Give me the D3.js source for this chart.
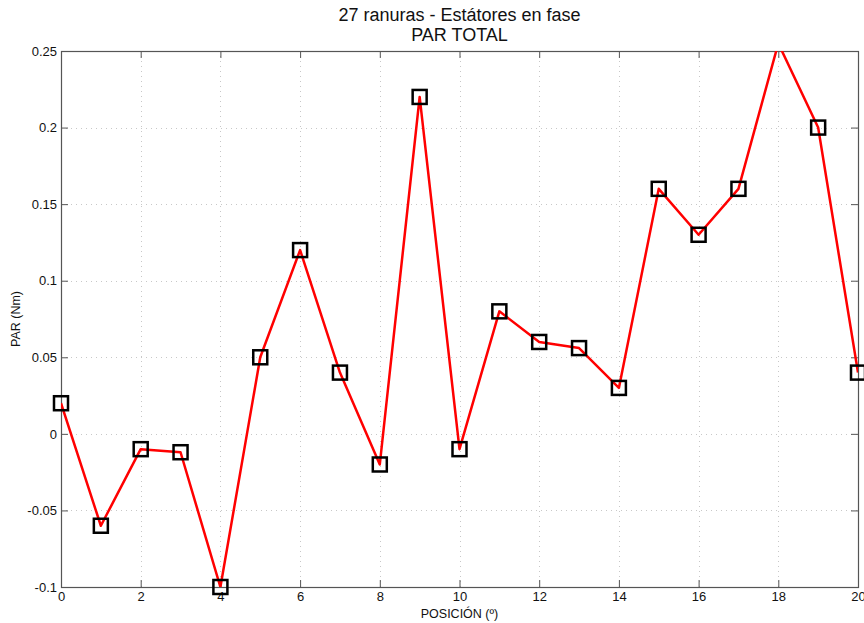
<!DOCTYPE html>
<html>
<head>
<meta charset="utf-8">
<script src="https://cdn.jsdelivr.net/npm/d3@7"></script>
<style>
  html, body { margin: 0; padding: 0; background: #fff; }
  svg { display: block; font-family: "Liberation Sans", Arial, sans-serif; }
</style>
</head>
<body>
<svg id="chart" width="864" height="623"></svg>
<script>
// Torque per rotor position
const positions = [0, 1, 2, 3, 4, 5, 6, 7, 8, 9, 10, 11, 12, 13, 14, 15, 16, 17, 18, 19, 20];
const torque = [0.02, -0.06, -0.01, -0.012, -0.1, 0.05, 0.12, 0.04, -0.02, 0.22, -0.01,
                0.08, 0.06, 0.056, 0.03, 0.16, 0.13, 0.16, 0.255, 0.2, 0.04];
const xTicks = [0, 2, 4, 6, 8, 10, 12, 14, 16, 18, 20];
const yTicks = [-0.1, -0.05, 0, 0.05, 0.1, 0.15, 0.2, 0.25];
const titleLines = ["27 ranuras - Estátores en fase", "PAR TOTAL"];
const xLabel = "POSICIÓN (º)";
const yLabel = "PAR (Nm)";

const svg = d3.select("#chart");
const m = { left: 61, top: 51, right: 858, bottom: 587 };

const x = d3.scaleLinear().domain([0, 20]).range([m.left, m.right]);
const y = d3.scaleLinear().domain([-0.1, 0.25]).range([m.bottom, m.top]);

svg.append("defs").append("clipPath").attr("id", "plotClip")
  .append("rect").attr("x", m.left).attr("y", m.top)
  .attr("width", m.right - m.left).attr("height", m.bottom - m.top);

// dotted grid
const grid = svg.append("g").attr("stroke", "#c8c8c8").attr("stroke-width", 1)
  .attr("stroke-dasharray", "1,4");
grid.selectAll(".gx").data(xTicks.filter(t => t > 0 && t < 20)).join("line")
  .attr("x1", d => Math.round(x(d)) + 0.5).attr("x2", d => Math.round(x(d)) + 0.5)
  .attr("y1", m.top).attr("y2", m.bottom);
grid.selectAll(".gy").data(yTicks.filter(t => t > -0.1 && t < 0.25)).join("line")
  .attr("y1", d => Math.round(y(d)) + 0.5).attr("y2", d => Math.round(y(d)) + 0.5)
  .attr("x1", m.left).attr("x2", m.right);

// axes (inward ticks, mirrored on all sides)
const fmt = d => (d === 0 ? "0" : String(+d.toFixed(2)));
const axisColor = "#555";
function styleAxis(g) {
  g.select(".domain").remove();
  g.selectAll(".tick line").attr("stroke", axisColor).attr("stroke-width", 1);
  g.selectAll(".tick text").attr("fill", "#111").style("font-size", "13px")
    .style("font-family", "Liberation Sans, Arial, sans-serif");
}
svg.append("g").attr("transform", `translate(0,${m.bottom})`)
  .call(d3.axisBottom(x).tickValues(xTicks).tickFormat(fmt).tickSizeInner(-7).tickSizeOuter(0).tickPadding(4))
  .call(styleAxis)
  .call(g => g.selectAll(".tick text").attr("y", 5).attr("dy", "0.71em"));
svg.append("g").attr("transform", `translate(0,${m.top})`)
  .call(d3.axisTop(x).tickValues(xTicks).tickFormat("").tickSizeInner(-7).tickSizeOuter(0))
  .call(styleAxis);
svg.append("g").attr("transform", `translate(${m.left},0)`)
  .call(d3.axisLeft(y).tickValues(yTicks).tickFormat(fmt).tickSizeInner(-7).tickSizeOuter(0).tickPadding(4))
  .call(styleAxis)
  .call(g => g.selectAll(".tick text").attr("x", -4));
svg.append("g").attr("transform", `translate(${m.right},0)`)
  .call(d3.axisRight(y).tickValues(yTicks).tickFormat("").tickSizeInner(-7).tickSizeOuter(0))
  .call(styleAxis);

// box
svg.append("rect").attr("x", m.left + 0.5).attr("y", m.top + 0.5)
  .attr("width", m.right - m.left).attr("height", m.bottom - m.top)
  .attr("fill", "none").attr("stroke", axisColor).attr("stroke-width", 1.2);

// data line
const line = d3.line().x((d, i) => x(positions[i])).y(d => y(d));
svg.append("path").datum(torque)
  .attr("clip-path", "url(#plotClip)")
  .attr("d", line).attr("fill", "none").attr("stroke", "#ff0000")
  .attr("stroke-width", 2.5).attr("stroke-linejoin", "round");

// square markers (points beyond the axis limits are not drawn)
const pts = positions.map((p, i) => ({ p, v: torque[i] }))
  .filter(d => d.v >= y.domain()[0] && d.v <= y.domain()[1]);
svg.append("g").selectAll("rect").data(pts).join("rect")
  .attr("x", d => x(d.p) - 7).attr("y", d => y(d.v) - 7)
  .attr("width", 14).attr("height", 14)
  .attr("fill", "none").attr("stroke", "#000").attr("stroke-width", 2.5);

// titles and labels
svg.append("g").selectAll("text").data(titleLines).join("text")
  .attr("x", (m.left + m.right) / 2).attr("y", (d, i) => 21 + i * 20)
  .attr("text-anchor", "middle").style("font-size", "18px").attr("fill", "#111")
  .text(d => d);
svg.append("text").attr("x", (m.left + m.right) / 2).attr("y", 618)
  .attr("text-anchor", "middle").style("font-size", "12.5px").attr("fill", "#111")
  .text(xLabel);
svg.append("text").attr("transform", `translate(20,${(m.top + m.bottom) / 2}) rotate(-90)`)
  .attr("text-anchor", "middle").style("font-size", "12.5px").attr("fill", "#111")
  .text(yLabel);
</script>
</body>
</html>
